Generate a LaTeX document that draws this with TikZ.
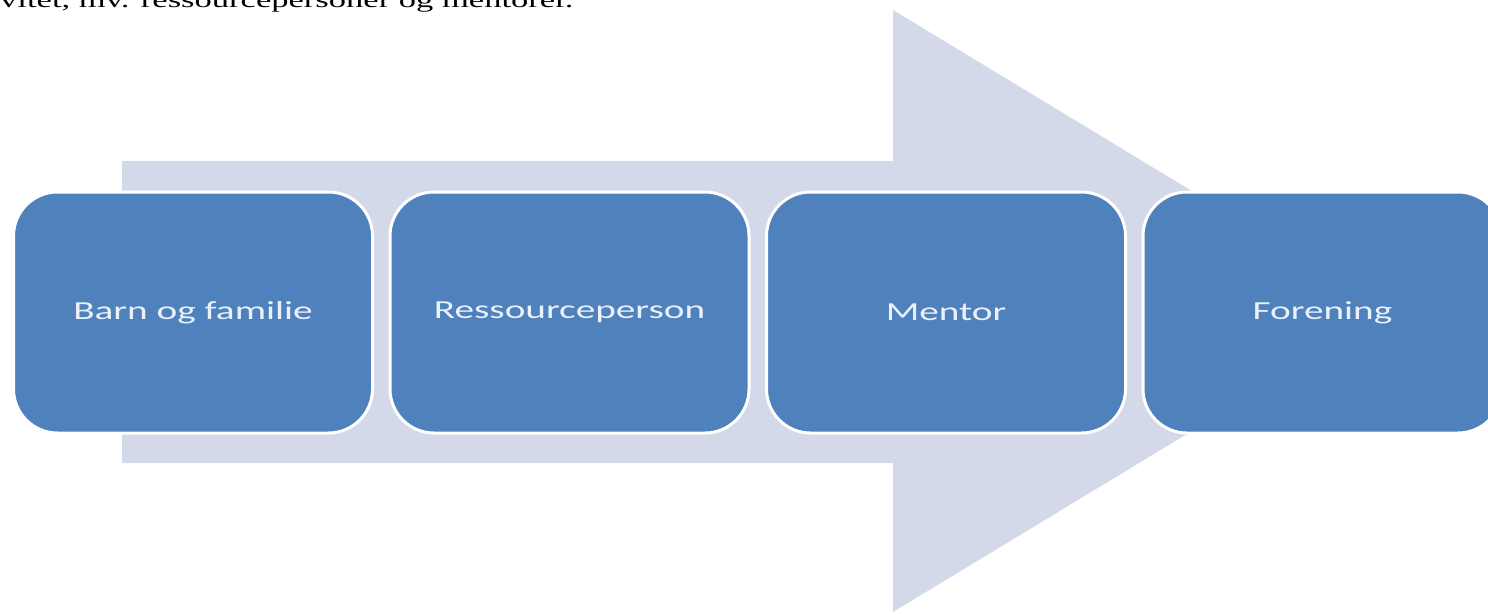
\documentclass[tikz,border=0pt]{standalone}
\usepackage{fontspec}
\usepackage{graphicx}
\setmainfont{Liberation Serif}
\newfontfamily\boxfont{Carlito}
\definecolor{arrowfill}{RGB}{211,217,232}
\definecolor{boxblue}{RGB}{79,129,189}
\definecolor{boxtext}{RGB}{234,241,250}
\begin{document}
\begin{tikzpicture}[x=1pt,y=-1pt,
  stepbox/.style={draw=white, line width=3pt, fill=boxblue, rounded corners=44pt,
    minimum width=359pt, minimum height=241pt, inner sep=0pt, text=boxtext,
    font=\boxfont\fontsize{26}{30}\selectfont},
  bigarrow/.style={fill=arrowfill, draw=none}]
\useasboundingbox (0,0) rectangle (1488,614);
% top text line (cut off by the page edge, as in the reference)
\node[anchor=base west, inner sep=0pt, font=\fontsize{22}{26}\selectfont] (toptext) at (0,7.5)
  {\scalebox{1.57}[1]{vitet, mv. ressourcepersoner og mentorer.}};
% big background arrow
\coordinate (a1) at (122,161);
\coordinate (a2) at (893,161);
\coordinate (a3) at (893,10);
\coordinate (tip) at (1390,311);
\coordinate (a5) at (893,612);
\coordinate (a6) at (893,463);
\coordinate (a7) at (122,463);
\fill[bigarrow] (a1) -- (a2) -- (a3) -- (tip) -- (a5) -- (a6) -- (a7) -- cycle;
% boxes
\node[stepbox] (b1) at (193,312.5) {\raisebox{-2pt}{\scalebox{1.51}[1]{Barn og familie}}};
\node[stepbox] (b2) at (569.5,312.5) {\raisebox{-2pt}{\scalebox{1.51}[1]{Ressourceperson}}};
\node[stepbox] (b3) at (946,312.5) {\raisebox{-2pt}{\scalebox{1.51}[1]{Mentor}}};
\node[stepbox] (b4) at (1322.5,312.5) {\raisebox{-2pt}{\scalebox{1.51}[1]{Forening}}};
\end{tikzpicture}
\end{document}
